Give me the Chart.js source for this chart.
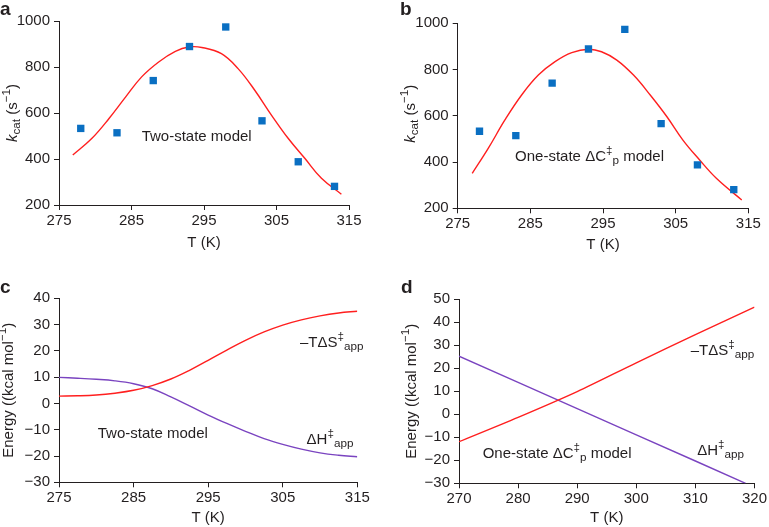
<!DOCTYPE html>
<html>
<head>
<meta charset="utf-8">
<script src="https://cdn.jsdelivr.net/npm/chart.js@4.4.1/dist/chart.umd.min.js"></script>
<style>
  body { margin: 0; background: #fff; }
  .panel { position: absolute; }
</style>
</head>
<body>
<div class="panel" style="left:0;top:0"><canvas id="chartA" width="384" height="260"></canvas></div>
<div class="panel" style="left:385px;top:0"><canvas id="chartB" width="384" height="260"></canvas></div>
<div class="panel" style="left:0;top:260px"><canvas id="chartC" width="385" height="267"></canvas></div>
<div class="panel" style="left:385px;top:260px"><canvas id="chartD" width="384" height="267"></canvas></div>
<script>
// measured kcat values
const sampleT = [278, 283, 288, 293, 298, 303, 308, 313];
const sampleKcat = [533, 514, 741, 889, 974, 566, 388, 281];

// fitted curves
const twoStateFitT = [276.9, 279.55, 281.9, 284.2, 286.4, 288.75, 291.05, 292.9, 294.7, 297.4, 299.7, 302.0, 304.3, 306.6, 308.9, 311.2, 313.95];
const twoStateFitK = [417, 490, 576, 670, 757, 822, 868, 887, 885, 858, 793, 699, 591, 490, 403, 316, 247];
const oneStateFitT = [277.0, 279.2, 281.5, 283.8, 286.1, 288.4, 290.7, 293.0, 294.8, 296.9, 299.2, 301.5, 303.8, 306.0, 308.3, 310.6, 314.1];
const oneStateFitK = [351, 459, 582, 690, 776, 834, 873, 888, 877, 841, 776, 690, 596, 495, 409, 330, 236];

// energies, two-state model
const twoStateT = [275, 277.5, 280, 282.5, 285, 287.5, 290, 292.5, 295, 297.5, 300, 302.5, 305, 307.5, 310, 312.5, 315];
const twoStateTdS = [2.8, 2.9, 3.2, 3.9, 5.0, 6.8, 9.3, 12.6, 16.4, 20.3, 24.0, 27.2, 29.8, 31.8, 33.3, 34.4, 35.1];
const twoStateDH = [9.9, 9.6, 9.2, 8.6, 7.5, 5.6, 2.5, -0.9, -4.4, -7.6, -10.6, -13.4, -15.6, -17.4, -18.8, -19.7, -20.3];

// energies, one-state dCp model
const oneStateT = [270, 280, 290, 300, 310, 320];
const oneStateTdS = [-11.9, -1.3, 9.9, 22.4, 34.6, 46.6];
const oneStateDHT = [270, 280, 290, 300, 310, 318.5];
const oneStateDH = [25.3, 13.9, 2.5, -8.9, -20.3, -30.0];

const BLUE = '#0a6fc2', RED = '#ff1f1f', PURPLE = '#7a44c0', INK = '#231f20';
const FONT = '"Liberation Sans", Arial, sans-serif';

const pts = (xs, ys) => xs.map((x, i) => ({ x, y: ys[i] }));

function richWidth(ctx, parts, size) {
    let w = 0;
    parts.forEach(([txt, kind]) => {
        const small = kind === 'sub' || kind === 'sup';
        ctx.font = `${kind === 'i' ? 'italic ' : ''}${small ? size * 0.78 : size}px ${FONT}`;
        w += ctx.measureText(txt).width;
    });
    return w;
}

function drawRich(ctx, x, y, parts, size) {
    parts.forEach(([txt, kind]) => {
        const small = kind === 'sub' || kind === 'sup';
        ctx.font = `${kind === 'i' ? 'italic ' : ''}${small ? size * 0.78 : size}px ${FONT}`;
        const dy = kind === 'sub' ? 3 : kind === 'sup' ? -7 : 0;
        ctx.fillText(txt, x, y + dy);
        x += ctx.measureText(txt).width;
    });
}

const TDS = [['\u2013T\u0394S', 'n'], ['\u2021', 'sup'], ['app', 'sub']];
const DH = [['\u0394H', 'n'], ['\u2021', 'sup'], ['app', 'sub']];
const TWO = [['Two-state model', 'n']];
const ONE = [['One-state \u0394C', 'n'], ['\u2021', 'sup'], ['p', 'sub'], [' model', 'n']];
const KCAT = [['k', 'i'], ['cat', 'sub'], [' (s', 'n'], ['\u22121', 'sup'], [')', 'n']];
const ENERGY = [['Energy ((kcal mol', 'n'], ['\u22121', 'sup'], [')', 'n']];

function makeChart(id, p) {
    const textPlugin = {
        id: 'richText',
        afterDraw(chart) {
            const ctx = chart.ctx, xs = chart.scales.x, ys = chart.scales.y, area = chart.chartArea;
            ctx.save();
            ctx.fillStyle = INK;
            ctx.textBaseline = 'alphabetic';
            ctx.textAlign = 'left';
            p.notes.forEach(n => drawRich(ctx, xs.getPixelForValue(n.x), ys.getPixelForValue(n.y), n.parts, 15));
            // y axis title, rotated
            const w = richWidth(ctx, p.yTitle, 15);
            ctx.save();
            ctx.translate(p.yTitleX, (area.top + area.bottom) / 2 + (p.yTitleShift || 0));
            ctx.rotate(-Math.PI / 2);
            drawRich(ctx, -w / 2, 0, p.yTitle, 15);
            ctx.restore();
            // panel letter
            ctx.font = `bold 19px ${FONT}`;
            ctx.fillText(p.letter, p.letterX, p.letterY);
            ctx.restore();
        }
    };

    return new Chart(document.getElementById(id), {
        type: 'scatter',
        data: { datasets: p.datasets },
        options: {
            responsive: false,
            animation: false,
            layout: { padding: { top: p.padTop, right: p.padRight, left: 0, bottom: 0 } },
            plugins: { legend: { display: false }, tooltip: { enabled: false } },
            scales: {
                x: {
                    type: 'linear', min: p.xMin, max: p.xMax,
                    ticks: { stepSize: 10, color: INK, font: { family: FONT, size: 15 }, padding: 2, maxRotation: 0 },
                    grid: { drawOnChartArea: false, tickLength: 5, color: INK },
                    border: { color: INK, width: 1 },
                    title: { display: true, text: 'T (K)', color: INK, font: { family: FONT, size: 15, lineHeight: 1.2 }, padding: { top: 0, bottom: p.xTitlePad } },
                    afterFit: s => { s.height = p.xHeight; }
                },
                y: {
                    type: 'linear', min: p.yMin, max: p.yMax,
                    ticks: {
                        stepSize: p.yStep, color: INK, font: { family: FONT, size: 15 }, padding: 4,
                        callback: v => String(v).replace('-', '\u2212')
                    },
                    grid: { drawOnChartArea: false, tickLength: 5, color: INK },
                    border: { color: INK, width: 1 },
                    afterFit: s => { s.width = p.yWidth; }
                }
            }
        },
        plugins: [textPlugin]
    });
}

const squares = {
    data: pts(sampleT, sampleKcat), showLine: false, pointStyle: 'rect',
    pointRadius: 5.2, pointHoverRadius: 5.2, backgroundColor: BLUE, borderColor: BLUE, borderWidth: 0
};
const curve = (xs, ys, color, tension) => ({
    data: pts(xs, ys), showLine: true, pointRadius: 0, borderColor: color, borderWidth: 1.4, tension
});

makeChart('chartA', {
    xMin: 275, xMax: 315, yMin: 200, yMax: 1000, yStep: 200,
    yWidth: 59, xHeight: 55, padTop: 21, padRight: 35, xTitlePad: 8,
    yTitle: KCAT, yTitleX: 16.5, letter: 'a', letterX: 0, letterY: 15,
    datasets: [squares, curve(twoStateFitT, twoStateFitK, RED, 0.4)],
    notes: [{ x: 286.4, y: 478, parts: TWO }]
});

makeChart('chartB', {
    xMin: 275, xMax: 315, yMin: 200, yMax: 1000, yStep: 200,
    yWidth: 72.7, xHeight: 51.7, padTop: 23.3, padRight: 20.7, xTitlePad: 6,
    yTitle: KCAT, yTitleX: 30, yTitleShift: -2, letter: 'b', letterX: 15, letterY: 15,
    datasets: [Object.assign({}, squares), curve(oneStateFitT, oneStateFitK, RED, 0.4)],
    notes: [{ x: 282.9, y: 405, parts: ONE }]
});

makeChart('chartC', {
    xMin: 275, xMax: 315, yMin: -30, yMax: 40, yStep: 10,
    yWidth: 59, xHeight: 44.7, padTop: 38.3, padRight: 27.7, xTitlePad: 0,
    yTitle: ENERGY, yTitleX: 13, letter: 'c', letterX: 0, letterY: 33,
    datasets: [curve(twoStateT, twoStateTdS, RED, 0.4), curve(twoStateT, twoStateDH, PURPLE, 0.4)],
    notes: [
        { x: 280.2, y: -13.3, parts: TWO },
        { x: 307.3, y: 21.4, parts: TDS },
        { x: 308.2, y: -15.5, parts: DH }
    ]
});

makeChart('chartD', {
    xMin: 270, xMax: 320, yMin: -30, yMax: 50, yStep: 10,
    yWidth: 74, xHeight: 43.7, padTop: 39.3, padRight: 11.3, xTitlePad: 0,
    yTitle: ENERGY, yTitleX: 31, letter: 'd', letterX: 16, letterY: 33,
    datasets: [curve(oneStateT, oneStateTdS, RED, 0.3), curve(oneStateDHT, oneStateDH, PURPLE, 0)],
    notes: [
        { x: 274.0, y: -19.1, parts: ONE },
        { x: 309.2, y: 25.8, parts: TDS },
        { x: 310.3, y: -17.7, parts: DH }
    ]
});
</script>
</body>
</html>
